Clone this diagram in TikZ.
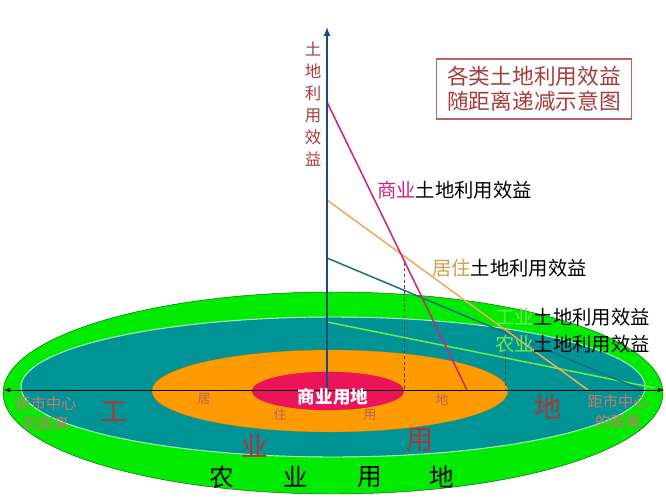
\documentclass[tikz,border=0pt]{standalone}
\usepackage{fontspec}
\setmainfont{Noto Sans CJK SC}
\usepackage{xcolor}
\usepackage{tikz}
\usetikzlibrary{arrows}

\definecolor{agrigreen}{RGB}{0,235,0}
\definecolor{indteal}{RGB}{0,148,150}
\definecolor{resorange}{RGB}{255,155,0}
\definecolor{comred}{RGB}{235,20,90}
\definecolor{axisblue}{RGB}{31,73,125}
\definecolor{comline}{RGB}{205,35,125}
\definecolor{resline}{RGB}{236,172,90}
\definecolor{indline}{RGB}{30,112,120}
\definecolor{agriline}{RGB}{110,235,70}
\definecolor{brownred}{RGB}{165,60,60}
\definecolor{fadedred}{RGB}{200,120,115}

\tikzset{
  benefit/.style={line width=1.3pt},
  zonebig/.style={font=\fontsize{23}{23}\selectfont, text=brownred!85!red},
  zonesmall/.style={font=\fontsize{11}{11}\selectfont, text=brownred!80!white},
  distlabel/.style={font=\fontsize{13}{17}\selectfont, text=fadedred, align=center},
  curvelabel/.style={anchor=west, font=\fontsize{16.5}{16.5}\selectfont, inner sep=0pt}
}

\begin{document}
\begin{tikzpicture}[x=0.03cm,y=-0.03cm]
    \useasboundingbox (0,0) rectangle (666,500);
    \filldraw[fill=agrigreen,draw=green!40!black] (333,393) ellipse (330 and 101);
    \filldraw[fill=indteal,draw=green!25!white,thick] (333,387) ellipse (312 and 70);
    \filldraw[fill=resorange,draw=resorange!80!black,very thin] (330,391) ellipse (178 and 41);
    \filldraw[fill=comred,draw=comred!80!black,very thin] (328,391) ellipse (76 and 19);

    \coordinate (O) at (327,390);
    \coordinate (ytop) at (327,27);
    \coordinate (xl) at (4,390);
    \coordinate (xr) at (664,390);

    \coordinate (c1) at (327,102);
    \coordinate (c2) at (467,390);
    \coordinate (r1) at (327,200);
    \coordinate (r2) at (588,390);
    \coordinate (i1) at (327,258);
    \coordinate (i2) at (642,390);
    \coordinate (a1) at (327,322);
    \coordinate (a2) at (655,388);
    \coordinate (d1) at (404,262);
    \coordinate (d1b) at (404,390);
    \coordinate (d2) at (505,330);
    \coordinate (d2b) at (505,390);

    \draw[densely dashed,thin,black!70] (d1) -- (d1b);
    \draw[densely dashed,thin,black!70] (d2) -- (d2b);
    \draw[benefit,agriline] (a1) -- (a2);
    \draw[benefit,indline] (i1) -- (i2);
    \draw[benefit,resline] (r1) -- (r2);
    \draw[benefit,comline] (c1) -- (c2);

    \draw[thick,black,<->,>=latex] (xl) -- (xr);
    \draw[line width=1.6pt,axisblue,->,>=latex] (O) -- (ytop);

    \node[align=center,text=brownred,font=\fontsize{14}{18.7}\selectfont] (ylab) at (313,104) {土\\地\\利\\用\\效\\益};
    \node[draw=brownred!80!white,line width=1pt,align=center,text=brownred,
          font=\fontsize{18.5}{21.5}\selectfont,minimum width=5.85cm,minimum height=1.8cm] (title) at (534,89)
          {各类土地利用效益\\随距离递减示意图};

    \node[curvelabel] (comlab) at (377,190) {\textcolor{comline}{商业}土地利用效益};
    \node[curvelabel] (reslab) at (432,268) {\textcolor{resline!90!black}{居住}土地利用效益};
    \node[curvelabel] (indlab) at (495,317) {\textcolor{agriline}{工业}土地利用效益};
    \node[curvelabel] (agrilab) at (495,344) {\textcolor{agriline}{农业}土地利用效益};

    \node[text=white,font=\bfseries\fontsize{15}{15}\selectfont] (comzone) at (333,397) {商业用地};

    \node[zonesmall] (res1) at (204,399) {居};
    \node[zonesmall] (res2) at (280,415) {住};
    \node[zonesmall] (res3) at (370,415) {用};
    \node[zonesmall] (res4) at (442,399) {地};

    \node[zonebig] (ind1) at (114,412) {工};
    \node[zonebig] (ind2) at (255,446) {业};
    \node[zonebig] (ind3) at (420,440) {用};
    \node[zonebig] (ind4) at (548,407) {地};

    \node[font=\fontsize{21}{21}\selectfont] (agri1) at (222,477) {农};
    \node[font=\fontsize{21}{21}\selectfont] (agri2) at (296,477) {业};
    \node[font=\fontsize{21}{21}\selectfont] (agri3) at (370,477) {用};
    \node[font=\fontsize{21}{21}\selectfont] (agri4) at (442,477) {地};

    \node[distlabel] (distl) at (46,414) {距市中心\\的距离};
    \node[distlabel] (distr) at (618,412) {距市中心\\的距离};
  \end{tikzpicture}
\end{document}
